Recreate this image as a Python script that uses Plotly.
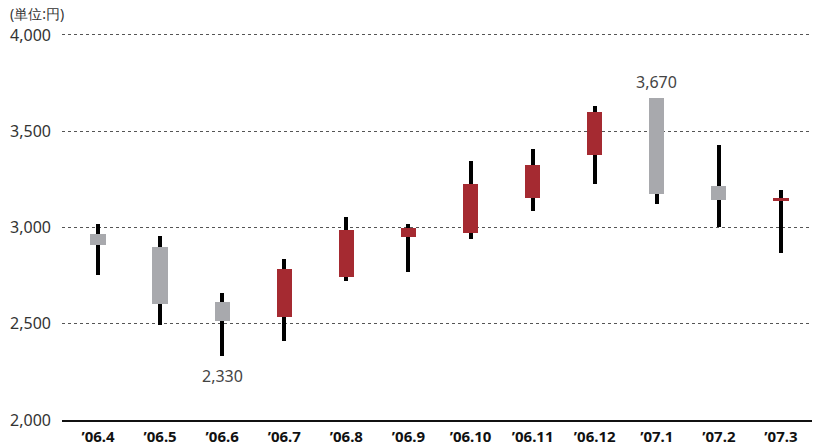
import plotly.graph_objects as go

# Monthly share price (yen), April 2006 - March 2007
months = ["’06.4", "’06.5", "’06.6", "’06.7", "’06.8", "’06.9",
          "’06.10", "’06.11", "’06.12", "’07.1", "’07.2", "’07.3"]
open_px = [2966, 2899, 2613, 2535, 2744, 2952, 2973, 3155, 3378, 3670, 3216, 3142]
high_px = [3017, 2956, 2660, 2836, 3055, 3018, 3345, 3408, 3631, 3670, 3429, 3195]
low_px = [2755, 2495, 2330, 2412, 2724, 2770, 2942, 3087, 3228, 3124, 3004, 2869]
close_px = [2911, 2604, 2516, 2784, 2987, 2997, 3226, 3325, 3600, 3176, 3144, 3152]

y_ticks = [2000, 2500, 3000, 3500, 4000]

UP = "#A52A31"
DOWN = "#A8A9AD"

x = list(range(len(months)))

fig = go.Figure()

# wicks: thin black bars spanning low..high
fig.add_trace(go.Bar(
    x=x,
    base=low_px,
    y=[h - l for h, l in zip(high_px, low_px)],
    width=0.065,
    marker=dict(color="#000000", line=dict(width=0)),
    hoverinfo="skip",
    showlegend=False,
))

# bodies: open..close, red when the month closed higher, grey otherwise
fig.add_trace(go.Bar(
    x=x,
    base=[min(o, c) for o, c in zip(open_px, close_px)],
    y=[abs(c - o) for o, c in zip(open_px, close_px)],
    width=0.245,
    marker=dict(color=[UP if c >= o else DOWN for o, c in zip(open_px, close_px)],
                line=dict(width=0)),
    hoverinfo="skip",
    showlegend=False,
))

# low / high value callouts
lo_i = low_px.index(min(low_px))
hi_i = high_px.index(max(high_px))
fig.add_annotation(x=lo_i, y=low_px[lo_i], text=f"{low_px[lo_i]:,}",
                   showarrow=False, yanchor="top", yshift=-7,
                   font=dict(size=16, color="#444444"))
fig.add_annotation(x=hi_i, y=high_px[hi_i], text=f"{high_px[hi_i]:,}",
                   showarrow=False, yanchor="bottom", yshift=3,
                   font=dict(size=16, color="#444444"))

# unit label
fig.add_annotation(xref="paper", yref="paper", x=-0.072, y=1.0, yshift=20,
                   xanchor="left", yanchor="middle", text="(単位:円)",
                   showarrow=False, font=dict(size=14, color="#333333"))

fig.update_layout(
    width=816, height=445,
    margin=dict(l=62, r=4, t=33, b=25, autoexpand=False),
    paper_bgcolor="white", plot_bgcolor="white",
    barmode="overlay",
    bargap=0,
    font=dict(family="Noto Sans, Open Sans, sans-serif", color="#333333"),
)

fig.update_xaxes(
    range=[-0.58, 11.5],
    tickmode="array", tickvals=x, ticktext=[f"<b>{m}</b>" for m in months],
    tickfont=dict(size=15, color="#111111"),
    showgrid=False, zeroline=False,
    showline=True, linecolor="#111111", linewidth=2,
    ticks="", ticklabelstandoff=2, automargin=False,
)

fig.update_yaxes(
    range=[2000, 4010],
    tickmode="array", tickvals=y_ticks, ticktext=[f"{v:,}" for v in y_ticks],
    tickfont=dict(size=16, color="#333333"),
    showgrid=True, gridcolor="#555555", gridwidth=1, griddash="3px,3px",
    zeroline=False, showline=False, ticks="", ticklabelstandoff=10,
    automargin=False,
)

fig.write_html("out.html")
